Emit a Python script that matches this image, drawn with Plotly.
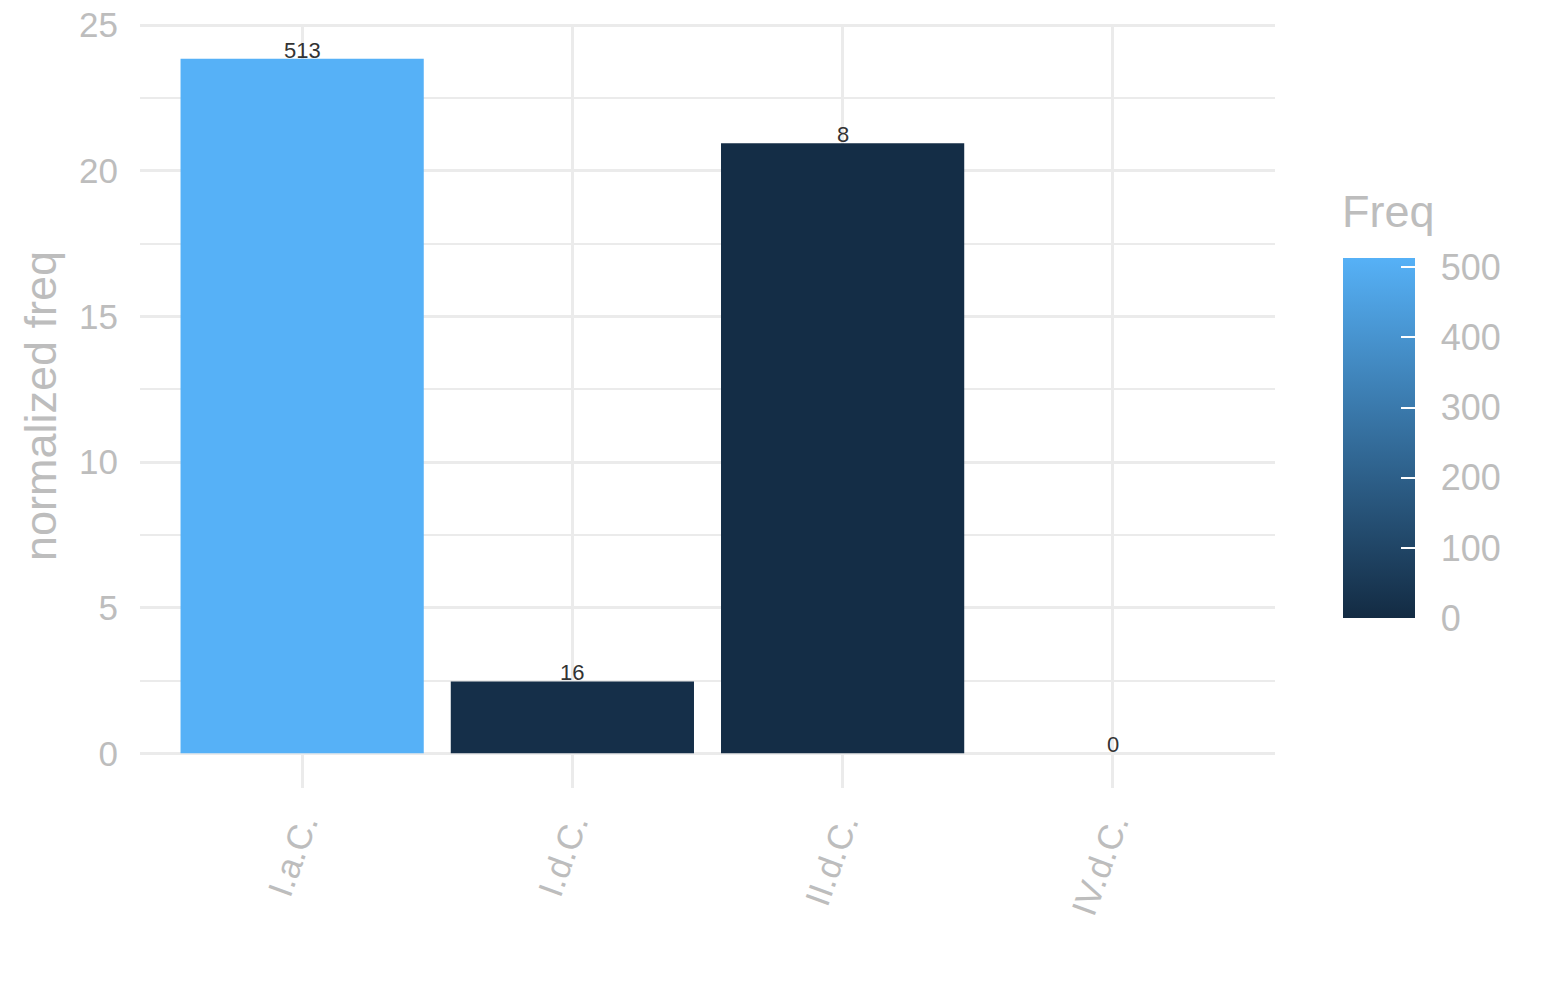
import plotly.graph_objects as go

# Data
periods = ["I.a.C.", "I.d.C.", "II.d.C.", "IV.d.C."]
norm_freq = [23.85, 2.47, 20.95, 0.0]
freq = [513, 16, 8, 0]
freq_ticks = [0, 100, 200, 300, 400, 500]

grey = "#bdbdbd"
grid = "#ebebeb"
font_family = "Liberation Sans, Arial, sans-serif"
scale = [[0, "#132B43"], [1, "#56B1F7"]]

# shared colorbar placement
cbar_pos = dict(x=1.06, xanchor="left", xpad=0,
                y=0.458, yanchor="middle", ypad=0,
                len=360, lenmode="pixels", thickness=72,
                outlinewidth=0, tickvals=freq_ticks)

fig = go.Figure()

fig.add_trace(go.Bar(
    x=periods,
    y=norm_freq,
    width=0.9,
    marker=dict(
        color=freq, cmin=0, cmax=max(freq),
        colorscale=scale,
        line=dict(width=0),
        colorbar=dict(
            **cbar_pos,
            ticks="outside", ticklen=19, tickcolor="rgba(0,0,0,0)",
            tickfont=dict(size=36, color=grey, family=font_family),
        ),
    ),
    hoverinfo="x+y",
    showlegend=False,
))

# second copy of the colour bar, only for the white tick marks inside the bar
fig.add_trace(go.Scatter(
    x=periods,
    y=norm_freq,
    mode="markers",
    marker=dict(
        color=freq, cmin=0, cmax=max(freq),
        colorscale=scale, opacity=0, size=1,
        showscale=True,
        colorbar=dict(
            **cbar_pos,
            ticks="inside", ticklen=14, tickcolor="white", tickwidth=2,
            showticklabels=False,
        ),
    ),
    hoverinfo="skip",
    showlegend=False,
))

# count labels sitting on the bar tops
for p, v, f in zip(periods, norm_freq, freq):
    fig.add_annotation(
        x=p, y=v, text=str(f), showarrow=False,
        yanchor="bottom", yshift=-6,
        font=dict(size=22, color="#333333", family=font_family),
    )

# legend title
fig.add_annotation(
    text="Freq", xref="paper", yref="paper",
    x=1.057, y=0.458 + 180 / 764 + 0.025, xanchor="left", yanchor="bottom",
    showarrow=False,
    font=dict(size=45, color=grey, family=font_family),
)

fig.update_layout(
    width=1545,
    height=1000,
    paper_bgcolor="white",
    plot_bgcolor="white",
    margin=dict(l=140, r=270, t=24, b=212),
    font=dict(family=font_family, color=grey),
    xaxis=dict(
        range=[-0.6, 3.6],
        automargin=False,
        showgrid=True, gridcolor=grid, gridwidth=3,
        zeroline=False, showline=False, ticks="",
        tickangle=-70,
        ticklabelstandoff=8,
        tickfont=dict(size=35, color=grey, family=font_family),
    ),
    yaxis=dict(
        range=[-1.19, 25.04],
        automargin=False,
        tickvals=[0, 5, 10, 15, 20, 25],
        showgrid=True, gridcolor=grid, gridwidth=3,
        minor=dict(tickvals=[2.5, 7.5, 12.5, 17.5, 22.5],
                   showgrid=True, gridcolor=grid, gridwidth=1.5),
        zeroline=False, showline=False, ticks="",
        ticklabelstandoff=21,
        tickfont=dict(size=35, color=grey, family=font_family),
        title=dict(text="normalized freq", standoff=8,
                   font=dict(size=45, color=grey, family=font_family)),
    ),
)

# drop the page's default body margin so the figure sits at the top-left corner
fig.write_html("out.html", config={"displayModeBar": False},
               post_script="document.body.style.margin = '0';")
